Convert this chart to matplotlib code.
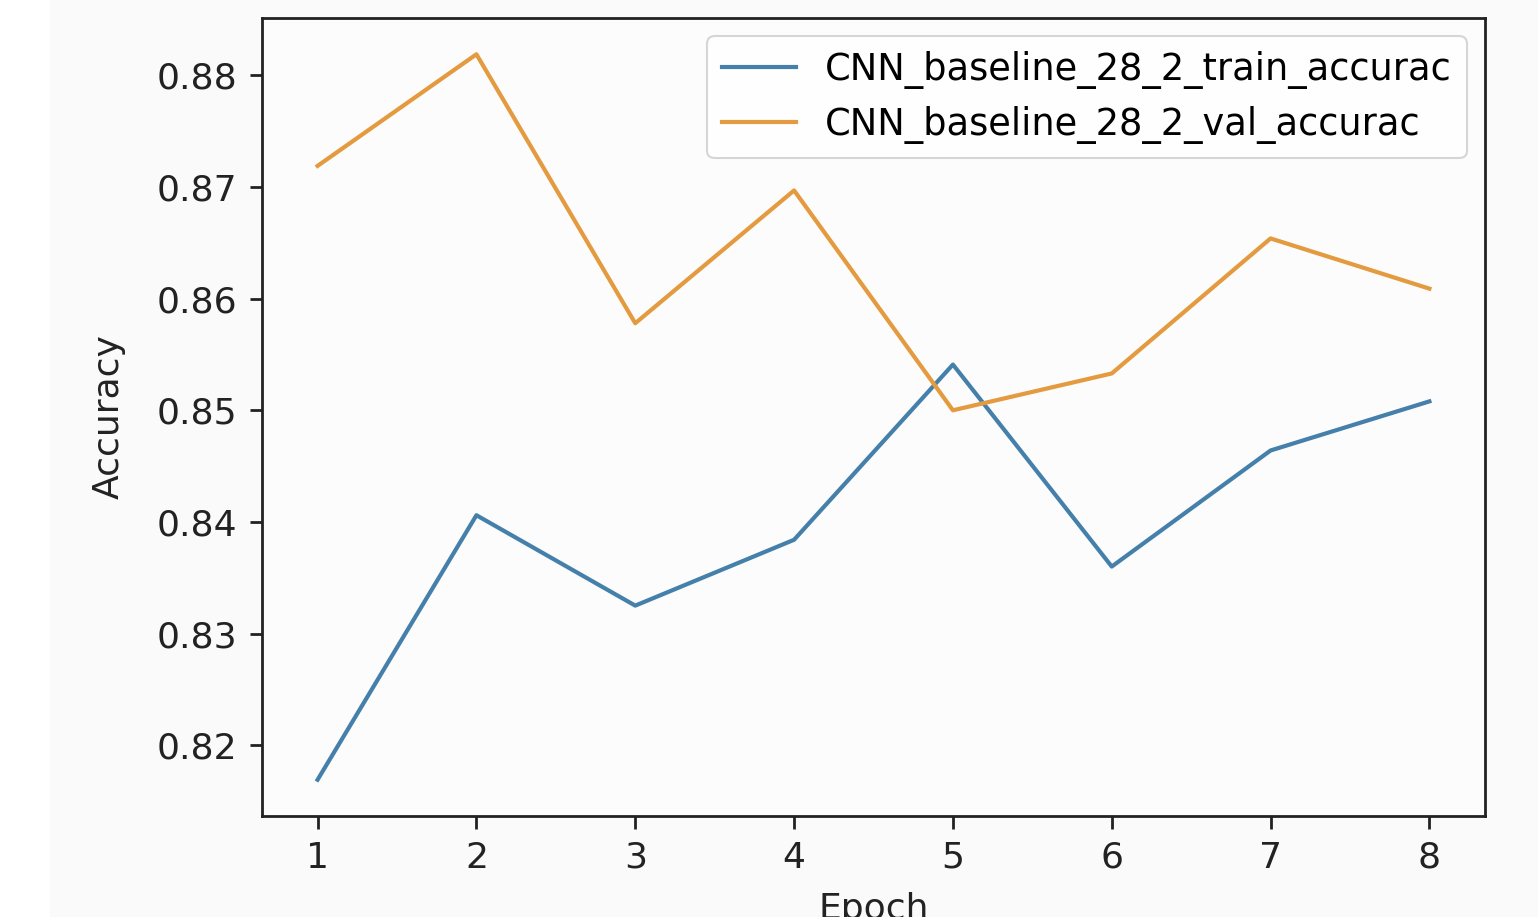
import matplotlib
matplotlib.use("Agg")
import matplotlib.pyplot as plt
from matplotlib.patches import Rectangle

# values
epochs = [1, 2, 3, 4, 5, 6, 7, 8]
train_acc = [0.8169, 0.8406, 0.8325, 0.8384, 0.8541, 0.8360, 0.8464, 0.8508]
val_acc = [0.8719, 0.8819, 0.8578, 0.8697, 0.8500, 0.8533, 0.8654, 0.8609]
y_ticks = [0.82, 0.83, 0.84, 0.85, 0.86, 0.87, 0.88]

plt.rcParams['font.family'] = ['DejaVu Sans']

fig = plt.figure(figsize=(15.38, 9.17), dpi=100, facecolor='#fafafa')
# white strip on the left edge of the screenshot
fig.patches.append(Rectangle((0, 0), 50 / 1538, 1, transform=fig.transFigure,
                             facecolor='white', edgecolor='none', zorder=-1))

ax = fig.add_axes([262 / 1538, 1 - 816 / 917, (1485 - 262) / 1538, (816 - 18) / 917])
ax.set_facecolor('#fcfcfc')

ax.plot(epochs, train_acc, color='#4580ab', lw=3, label='CNN_baseline_28_2_train_accurac')
ax.plot(epochs, val_acc, color='#e49a3e', lw=3, label='CNN_baseline_28_2_val_accurac')

ax.set_xticks(epochs)
ax.set_yticks(y_ticks)
ax.set_yticklabels([f'{t:.2f}' for t in y_ticks])
ax.tick_params(labelsize=26, length=9, width=2, pad=9, colors='#222222')
for s in ax.spines.values():
    s.set_linewidth(2)
    s.set_color('#222222')

# the screenshot crops the x label at the bottom edge
ax.set_xlabel('Epoch', fontsize=26, color='#222222', labelpad=12)
ax.set_ylabel('Accuracy', fontsize=26, color='#222222', labelpad=22)

leg = ax.legend(loc='upper right', fontsize=26.5, handlelength=2.0,
                borderaxespad=0.5, labelspacing=0.45)
leg.get_frame().set_linewidth(1.5)
leg.get_frame().set_edgecolor('#cccccc')

fig.savefig('out.png', dpi=100, facecolor=fig.get_facecolor())
